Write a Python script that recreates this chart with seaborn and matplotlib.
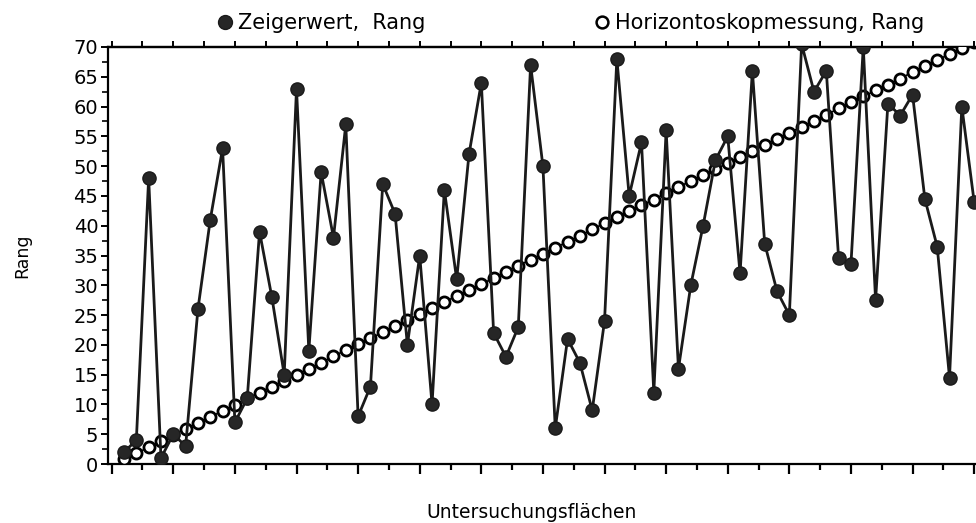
import numpy as np
import pandas as pd
import matplotlib
matplotlib.use('Agg')
import matplotlib.pyplot as plt
from matplotlib.lines import Line2D
from matplotlib.ticker import MultipleLocator, NullFormatter
import seaborn as sns

# data (index = Untersuchungsflaeche)
flaeche = list(range(1, 71))
zeigerwert_rang = [2, 4, 48, 1, 5, 3, 26, 41, 53, 7,
                   11, 39, 28, 15, 63, 19, 49, 38, 57, 8,
                   13, 47, 42, 20, 35, 10, 46, 31, 52, 64,
                   22, 18, 23, 67, 50, 6, 21, 17, 9, 24,
                   68, 45, 54, 12, 56, 16, 30, 40, 51, 55,
                   32, 66, 37, 29, 25, 70.5, 62.5, 66, 34.5, 33.5,
                   70, 27.5, 60.5, 58.5, 62, 44.5, 36.5, 14.5, 60, 44]
horizont_rang = [0.8, 1.8, 2.8, 3.8, 4.9, 5.9, 6.9, 7.9, 8.9, 9.9,
                 11.0, 12.0, 13.0, 14.0, 15.0, 16.0, 17.0, 18.1, 19.1, 20.1,
                 21.1, 22.1, 23.1, 24.1, 25.2, 26.2, 27.2, 28.2, 29.2, 30.2,
                 31.2, 32.3, 33.3, 34.3, 35.3, 36.3, 37.3, 38.3, 39.4, 40.4,
                 41.4, 42.4, 43.4, 44.4, 45.5, 46.5, 47.5, 48.5, 49.5, 50.5,
                 51.5, 52.6, 53.6, 54.6, 55.6, 56.6, 57.6, 58.6, 59.7, 60.7,
                 61.7, 62.7, 63.7, 64.7, 65.8, 66.8, 67.8, 68.8, 69.8, 70.8]

df = pd.DataFrame({
    'Flaeche': flaeche,
    'Zeigerwert': zeigerwert_rang,
    'Horizontoskop': horizont_rang,
})

sns.set_style('ticks')
plt.rcParams['font.family'] = ['DejaVu Sans']
plt.rcParams['text.color'] = 'black'
plt.rcParams['axes.labelcolor'] = 'black'
plt.rcParams['xtick.color'] = 'black'
plt.rcParams['ytick.color'] = 'black'

fig = plt.figure(figsize=(9.76, 5.23), dpi=100)
ax = fig.add_axes([108 / 976, 59 / 523, 1 - 108 / 976, 417 / 523])

sns.lineplot(data=df, x='Flaeche', y='Horizontoskop', ax=ax, color='black',
             linewidth=1.2, marker='o', markersize=8, markerfacecolor='white',
             markeredgecolor='black', markeredgewidth=2, zorder=3)
sns.lineplot(data=df, x='Flaeche', y='Zeigerwert', ax=ax, color='#1a1a1a',
             linewidth=2, marker='o', markersize=9.5, markerfacecolor='#262626',
             markeredgecolor='#1a1a1a', markeredgewidth=1, zorder=4)

ax.set_xlim(-0.3, 70.15)
ax.set_ylim(0, 70)

ax.spines['right'].set_visible(False)
for s in ['left', 'bottom', 'top']:
    ax.spines[s].set_linewidth(1.6)
    ax.spines[s].set_color('black')

ax.xaxis.set_major_locator(MultipleLocator(5))
ax.xaxis.set_minor_locator(MultipleLocator(2.5))
ax.xaxis.set_major_formatter(NullFormatter())
ax.yaxis.set_major_locator(MultipleLocator(5))
ax.yaxis.set_minor_locator(MultipleLocator(2.5))
ax.tick_params(axis='x', which='major', direction='out', length=7, width=1.6)
ax.tick_params(axis='x', which='minor', direction='out', length=4, width=1.6)
ax.tick_params(axis='y', which='major', direction='out', length=5, width=1.4,
               labelsize=14, pad=2, labelcolor='black')
ax.tick_params(axis='y', which='minor', direction='out', length=4, width=1.2)

top = ax.secondary_xaxis('top')
top.xaxis.set_major_locator(MultipleLocator(2.5))
top.xaxis.set_major_formatter(NullFormatter())
top.tick_params(direction='out', length=4, width=1.4, color='black')
top.spines['top'].set_linewidth(1.6)
top.spines['top'].set_color('black')

ax.set_xlabel('Untersuchungsflächen', fontsize=13.5, color='black')
ax.xaxis.set_label_coords(0.488, -0.0935)
ax.set_ylabel('Rang', fontsize=12.5, color='black')
ax.yaxis.set_label_coords(-0.088, 0.5)

handles = [
    Line2D([], [], linestyle='none', marker='o', markersize=10,
           markerfacecolor='#262626', markeredgecolor='#1a1a1a'),
    Line2D([], [], linestyle='none', marker='o', markersize=8.5,
           markerfacecolor='white', markeredgecolor='black', markeredgewidth=1.8),
]
leg = fig.legend(handles, ['Zeigerwert,  Rang', 'Horizontoskopmessung, Rang'],
                 loc='center left', bbox_to_anchor=(219 / 976, 1 - 23 / 523), ncol=2,
                 frameon=False, fontsize=15, handlelength=0.6, handletextpad=0.3,
                 columnspacing=8.2, borderaxespad=0, borderpad=0)
for t in leg.get_texts():
    t.set_color('black')

fig.savefig('out.png', dpi=100)
